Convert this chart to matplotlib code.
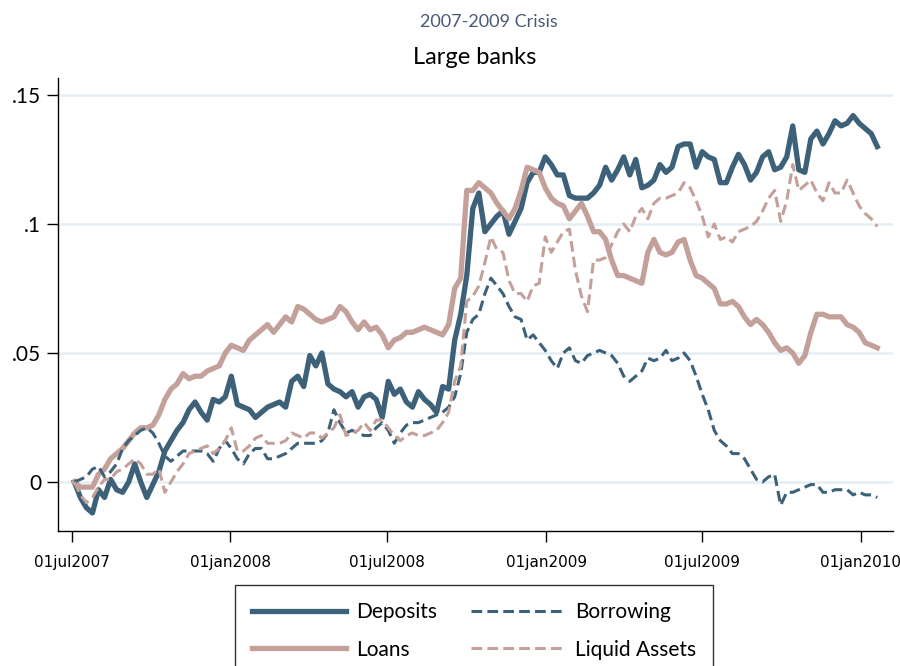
import numpy as np
import pandas as pd
import matplotlib
matplotlib.use('Agg')
import matplotlib.pyplot as plt

# weekly series, cumulative change since July 2007
deposits = [0.000, -0.006, -0.010, -0.012, -0.003, -0.006, 0.001, -0.003, -0.004, 0.000,
            0.007, 0.000, -0.006, -0.001, 0.004, 0.012, 0.016, 0.020, 0.023, 0.028,
            0.031, 0.027, 0.024, 0.032, 0.031, 0.033, 0.041, 0.030, 0.029, 0.028,
            0.025, 0.027, 0.029, 0.030, 0.031, 0.029, 0.039, 0.041, 0.037, 0.049,
            0.045, 0.050, 0.038, 0.036, 0.035, 0.033, 0.035, 0.029, 0.033, 0.034,
            0.032, 0.025, 0.039, 0.034, 0.036, 0.031, 0.029, 0.035, 0.032, 0.030,
            0.027, 0.037, 0.036, 0.055, 0.065, 0.080, 0.106, 0.112, 0.097, 0.100,
            0.103, 0.105, 0.096, 0.101, 0.106, 0.116, 0.120, 0.120, 0.126, 0.123,
            0.119, 0.119, 0.111, 0.110, 0.110, 0.110, 0.112, 0.115, 0.122, 0.117,
            0.121, 0.126, 0.119, 0.125, 0.114, 0.115, 0.117, 0.123, 0.120, 0.122,
            0.130, 0.131, 0.131, 0.122, 0.128, 0.126, 0.125, 0.116, 0.116, 0.122,
            0.127, 0.123, 0.117, 0.120, 0.126, 0.128, 0.121, 0.122, 0.126, 0.138,
            0.121, 0.120, 0.133, 0.136, 0.131, 0.135, 0.140, 0.138, 0.139, 0.142,
            0.139, 0.137, 0.135, 0.130]

loans = [0.000, -0.002, -0.002, -0.002, 0.003, 0.005, 0.009, 0.011, 0.013, 0.016,
         0.019, 0.021, 0.021, 0.022, 0.026, 0.032, 0.036, 0.038, 0.042, 0.040,
         0.041, 0.041, 0.043, 0.044, 0.045, 0.050, 0.053, 0.052, 0.051, 0.055,
         0.057, 0.059, 0.061, 0.058, 0.061, 0.064, 0.062, 0.068, 0.067, 0.065,
         0.063, 0.062, 0.063, 0.064, 0.068, 0.066, 0.062, 0.059, 0.062, 0.059,
         0.060, 0.057, 0.052, 0.055, 0.056, 0.058, 0.058, 0.059, 0.060, 0.059,
         0.058, 0.057, 0.061, 0.075, 0.079, 0.113, 0.113, 0.116, 0.114, 0.112,
         0.108, 0.105, 0.102, 0.106, 0.113, 0.122, 0.121, 0.120, 0.114, 0.110,
         0.108, 0.107, 0.102, 0.105, 0.108, 0.103, 0.097, 0.097, 0.094, 0.086,
         0.080, 0.080, 0.079, 0.078, 0.077, 0.089, 0.094, 0.089, 0.088, 0.089,
         0.093, 0.094, 0.086, 0.080, 0.079, 0.077, 0.075, 0.069, 0.069, 0.070,
         0.068, 0.064, 0.061, 0.063, 0.061, 0.058, 0.054, 0.051, 0.052, 0.050,
         0.046, 0.049, 0.058, 0.065, 0.065, 0.064, 0.064, 0.064, 0.061, 0.060,
         0.058, 0.054, 0.053, 0.052]

borrowing = [0.000, 0.001, 0.002, 0.005, 0.006, 0.002, 0.004, 0.007, 0.013, 0.016,
             0.018, 0.020, 0.021, 0.019, 0.015, 0.010, 0.008, 0.010, 0.012, 0.012,
             0.012, 0.012, 0.011, 0.008, 0.013, 0.016, 0.013, 0.009, 0.007, 0.011,
             0.013, 0.013, 0.009, 0.009, 0.010, 0.011, 0.013, 0.015, 0.015, 0.015,
             0.015, 0.016, 0.019, 0.028, 0.023, 0.019, 0.020, 0.019, 0.018, 0.018,
             0.021, 0.023, 0.020, 0.015, 0.019, 0.022, 0.023, 0.023, 0.024, 0.025,
             0.026, 0.027, 0.029, 0.033, 0.042, 0.058, 0.063, 0.065, 0.073, 0.079,
             0.076, 0.073, 0.068, 0.064, 0.063, 0.055, 0.057, 0.054, 0.051, 0.047,
             0.044, 0.050, 0.052, 0.047, 0.046, 0.049, 0.050, 0.051, 0.050, 0.049,
             0.046, 0.041, 0.039, 0.041, 0.043, 0.048, 0.047, 0.048, 0.051, 0.047,
             0.048, 0.050, 0.047, 0.041, 0.034, 0.028, 0.020, 0.016, 0.014, 0.011,
             0.011, 0.009, 0.005, 0.001, 0.000, 0.002, 0.003, -0.009, -0.004, -0.004,
             -0.003, -0.002, -0.001, -0.001, -0.004, -0.004, -0.003, -0.003, -0.003, -0.005,
             -0.004, -0.005, -0.005, -0.006]

liquid = [0.000, -0.005, -0.008, -0.006, -0.002, 0.001, 0.001, 0.004, 0.005, 0.007,
          0.009, 0.007, 0.003, 0.003, 0.005, -0.004, 0.000, 0.004, 0.007, 0.011,
          0.012, 0.013, 0.014, 0.011, 0.013, 0.016, 0.021, 0.012, 0.012, 0.014,
          0.017, 0.018, 0.015, 0.015, 0.015, 0.016, 0.019, 0.018, 0.017, 0.019,
          0.019, 0.017, 0.019, 0.021, 0.026, 0.018, 0.019, 0.020, 0.023, 0.020,
          0.024, 0.024, 0.021, 0.018, 0.016, 0.018, 0.019, 0.018, 0.018, 0.019,
          0.020, 0.023, 0.027, 0.039, 0.045, 0.070, 0.072, 0.076, 0.085, 0.095,
          0.090, 0.089, 0.078, 0.073, 0.073, 0.070, 0.076, 0.077, 0.095, 0.089,
          0.093, 0.097, 0.098, 0.082, 0.072, 0.066, 0.086, 0.086, 0.087, 0.092,
          0.097, 0.100, 0.097, 0.103, 0.106, 0.102, 0.108, 0.110, 0.110, 0.111,
          0.112, 0.116, 0.114, 0.109, 0.103, 0.095, 0.100, 0.094, 0.095, 0.093,
          0.097, 0.098, 0.099, 0.101, 0.105, 0.110, 0.113, 0.101, 0.109, 0.123,
          0.113, 0.115, 0.117, 0.112, 0.109, 0.116, 0.112, 0.112, 0.117, 0.112,
          0.107, 0.104, 0.102, 0.099]

dates = pd.date_range('2007-07-04', periods=len(deposits), freq='7D')

tick_dates = pd.to_datetime(['2007-07-01', '2008-01-01', '2008-07-01',
                             '2009-01-01', '2009-07-01', '2010-01-01'])
tick_labels = ['01jul2007', '01jan2008', '01jul2008', '01jan2009', '01jul2009', '01jan2010']
ytick_vals = [0, 0.05, 0.1, 0.15]
ytick_labels = ['0', '.05', '.1', '.15']

blue = '#3c6179'
tan = '#c3a099'

plt.rcParams['font.family'] = ['Lato', 'DejaVu Sans']

fig = plt.figure(figsize=(9, 6.66), dpi=100)
ax = fig.add_axes([0.0644, 0.2027, 0.9276, 0.6803])

for v in ytick_vals:
    ax.axhline(v, color='#e5eef2', lw=1.8, zorder=0)

ax.plot(dates, deposits, color=blue, lw=3.8, label='Deposits', solid_joinstyle='round')
ax.plot(dates, loans, color=tan, lw=3.8, label='Loans', solid_joinstyle='round')
ax.plot(dates, borrowing, color=blue, lw=2.2, ls=(0, (3.5, 1.7)), label='Borrowing')
ax.plot(dates, liquid, color=tan, lw=2.2, ls=(0, (3.5, 1.7)), label='Liquid Assets')

ax.set_ylim(-0.019, 0.1566)
ax.set_xlim(pd.Timestamp('2007-06-15'), pd.Timestamp('2010-02-07'))

ax.set_yticks(ytick_vals)
ax.set_yticklabels(ytick_labels, fontsize=15)
ax.set_xticks(tick_dates)
ax.set_xticklabels(tick_labels, fontsize=11, family=['Liberation Sans Narrow', 'DejaVu Sans'])
ax.tick_params(axis='both', direction='out', length=8, width=1, color='black')
ax.tick_params(axis='x', pad=9)
ax.tick_params(axis='y', pad=4)

for s in ['top', 'right']:
    ax.spines[s].set_visible(False)
for s in ['left', 'bottom']:
    ax.spines[s].set_linewidth(1)

fig.text(0.527, 0.904, 'Large banks', ha='center', va='baseline', fontsize=17, color='black')
fig.text(0.543, 0.9595, '2007-2009 Crisis', ha='center', va='baseline', fontsize=13, color='#4a5878')

leg = fig.legend(loc='upper left', bbox_to_anchor=(0.25, 0.137), ncol=2,
                 fontsize=15, handlelength=4.5, handletextpad=0.5, columnspacing=1.6,
                 frameon=True, fancybox=False, edgecolor='black', borderpad=0.8,
                 labelspacing=0.85)
leg.get_frame().set_linewidth(1)

fig.savefig('out.png', dpi=100)
